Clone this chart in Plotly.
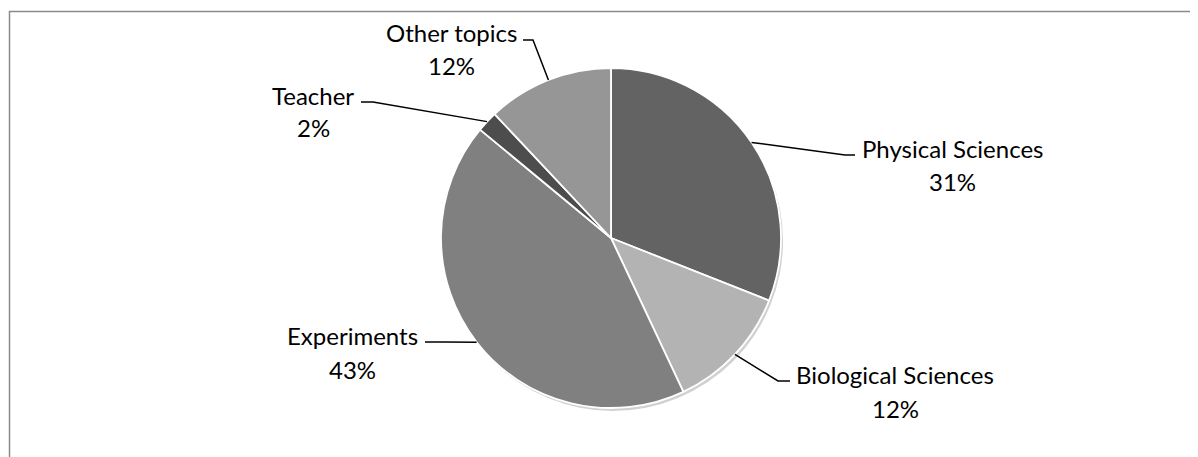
import math
import plotly.graph_objects as go

# ---- data ----
categories = ["Physical Sciences", "Biological Sciences", "Experiments", "Teacher", "Other topics"]
values = [31, 12, 43, 2, 12]
colors = ["#636363", "#b3b3b3", "#808080", "#4d4d4d", "#969696"]

# ---- layout constants (pixels, in window coordinates) ----
W, H = 1198, 457
OFF = 8  # page body margin
CX, CY, R = 611, 238, 170
FONT = "Lato"
FS = 24

# label placement: (center x, y of name line, y of percent line, elbow x, end x of horizontal)
label_pos = {
    "Physical Sciences": (952, 148, 181, 845, 855),
    "Biological Sciences": (895, 374, 408, 778, 790),
    "Experiments": (352, 335, 369, 445, 425),
    "Teacher": (313, 95, 127, 373, 361),
    "Other topics": (451, 33, 65, 533, 523),
}


def px(x):
    return (x - OFF) / W


def py(y):
    return 1 - (y - OFF) / H


fig = go.Figure()

# soft shadow behind pie
fig.add_trace(go.Pie(
    values=[1], marker=dict(colors=["rgba(0,0,0,0.18)"], line=dict(width=0)),
    textinfo="none", hoverinfo="skip", showlegend=False, sort=False,
    domain=dict(x=[px(CX - R + 2), px(CX + R + 2)], y=[py(CY + R + 3), py(CY - R + 3)]),
))

fig.add_trace(go.Pie(
    labels=categories, values=values, sort=False, direction="clockwise", rotation=0,
    marker=dict(colors=colors, line=dict(color="white", width=1.8)),
    textinfo="none", showlegend=False,
    domain=dict(x=[px(CX - R), px(CX + R)], y=[py(CY + R), py(CY - R)]),
))

total = sum(values)
shapes = []
annotations = []
cum = 0
for cat, v in zip(categories, values):
    mid = (cum + v / 2) / total * 2 * math.pi
    cum += v
    ex = CX + R * math.sin(mid)
    ey = CY - R * math.cos(mid)
    lx, ny, pyy, elbow_x, end_x = label_pos[cat]
    line_y = ny + 7
    shapes.append(dict(
        type="path", xref="paper", yref="paper",
        path=f"M {px(ex)} {py(ey)} L {px(elbow_x)} {py(line_y)} L {px(end_x)} {py(line_y)}",
        line=dict(color="black", width=1.5),
    ))
    pct = round(v / total * 100)
    annotations.append(dict(
        x=px(lx), y=py(ny), xref="paper", yref="paper", text=cat, showarrow=False,
        xanchor="center", yanchor="middle", font=dict(family=FONT, size=FS, color="black"),
    ))
    annotations.append(dict(
        x=px(lx), y=py(pyy), xref="paper", yref="paper", text=f"{pct}%", showarrow=False,
        xanchor="center", yanchor="middle", font=dict(family=FONT, size=FS, color="black"),
    ))

# chart border
shapes.append(dict(
    type="rect", xref="paper", yref="paper",
    x0=px(9.5), x1=px(W + 20), y0=py(H + 20), y1=py(11.5),
    line=dict(color="#8a8a8a", width=1.5),
))

fig.update_layout(
    width=W, height=H, margin=dict(l=0, r=0, t=0, b=0),
    paper_bgcolor="white", plot_bgcolor="white",
    shapes=shapes, annotations=annotations,
    font=dict(family=FONT),
)

fig.write_html("out.html")
